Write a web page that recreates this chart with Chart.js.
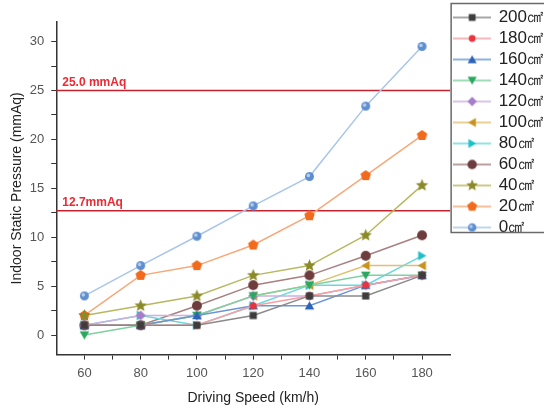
<!DOCTYPE html>
<html>
<head>
<meta charset="utf-8">
<script src="https://cdn.jsdelivr.net/npm/chart.js@4"></script>
<style>
html, body { margin: 0; padding: 0; background: #fff; overflow: hidden; }
</style>
</head>
<body>
<canvas id="chart" width="544" height="411"></canvas>
<script>
// x values (km/h)
const speeds = [60, 80, 100, 120, 140, 160, 180];

// indoor static pressure (mmAq) for each opening area
const s200 = [1.0, 1.0, 1.0, 2.0, 4.0, 4.0, 6.1];
const s180 = [1.0, 1.0, 1.0, 3.0, 4.0, 5.1, 6.1];
const s160 = [1.0, 1.0, 2.0, 3.0, 3.0, 5.1, 6.1];
const s140 = [0.0, 1.0, 2.0, 4.0, 5.1, 6.1, 6.1];
const s120 = [1.0, 2.0, 2.0, 4.0, 4.0, 5.1, 6.1];
const s100 = [1.0, 1.0, 2.0, 4.0, 5.1, 7.1, 7.1];
const s80  = [1.0, 2.0, 1.0, 3.0, 5.1, 5.1, 8.1];
const s60  = [1.0, 1.0, 3.0, 5.1, 6.1, 8.1, 10.2];
const s40  = [2.0, 3.0, 4.0, 6.1, 7.1, 10.2, 15.3];
const s20  = [2.0, 6.1, 7.1, 9.2, 12.2, 16.3, 20.4];
const s0   = [4.0, 7.1, 10.1, 13.2, 16.2, 23.4, 29.5];

const seriesNames = ['200㎠', '180㎠', '160㎠', '140㎠', '120㎠', '100㎠', '80㎠', '60㎠', '40㎠', '20㎠', '0㎠'];
const seriesValues = [s200, s180, s160, s140, s120, s100, s80, s60, s40, s20, s0];

// reference limits
const limitValues = [25.0, 12.7];
const limitLabels = ['25.0 mmAq', '12.7mmAq'];

// x and y tick positions
const xTicks = [60, 70, 80, 90, 100, 110, 120, 130, 140, 150, 160, 170, 180];
const yTicks = [0, 2.5, 5, 7.5, 10, 12.5, 15, 17.5, 20, 22.5, 25, 27.5, 30];

// look of each series: marker shape, marker colour, line colour, marker size
const looks = [
    {shape: 'square',   fill: '#3d3d3d', line: '#8a8a8a', r: 3.6},
    {shape: 'circle',   fill: '#e8343c', line: '#f4a0a4', r: 3.6},
    {shape: 'up',       fill: '#2c62b8', line: '#6a96d8', r: 5.5},
    {shape: 'down',     fill: '#2aa860', line: '#80d0a0', r: 5.5},
    {shape: 'diamond',  fill: '#a77cc8', line: '#cbb0e0', r: 5},
    {shape: 'left',     fill: '#c8921e', line: '#e0c070', r: 5.5},
    {shape: 'right',    fill: '#1ec0c8', line: '#6ad8dc', r: 5.5},
    {shape: 'circle',   fill: '#6e3c3c', line: '#a88080', r: 5},
    {shape: 'star',     fill: '#8a8a2a', line: '#b8b860', r: 6.5},
    {shape: 'pentagon', fill: '#f26a1c', line: '#f8a878', r: 5.5},
    {shape: 'ball',     fill: '#5d8fd0', line: '#a8c6ea', r: 4.5}
];

function polygon(ctx, x, y, r, n, startAngle) {
    for (let i = 0; i < n; i++) {
        let a = startAngle + i * 2 * Math.PI / n;
        let px = x + r * Math.cos(a), py = y + r * Math.sin(a);
        if (i === 0) ctx.moveTo(px, py); else ctx.lineTo(px, py);
    }
    ctx.closePath();
}

function drawMarker(ctx, shape, x, y, r, color) {
    ctx.save();
    ctx.fillStyle = color;
    ctx.beginPath();
    if (shape === 'square') {
        ctx.rect(x - r, y - r, 2 * r, 2 * r);
    } else if (shape === 'circle' || shape === 'ball') {
        ctx.arc(x, y, r, 0, 2 * Math.PI);
    } else if (shape === 'up') {
        polygon(ctx, x, y + r * 0.2, r, 3, -Math.PI / 2);
    } else if (shape === 'down') {
        polygon(ctx, x, y - r * 0.2, r, 3, Math.PI / 2);
    } else if (shape === 'left') {
        polygon(ctx, x + r * 0.2, y, r, 3, Math.PI);
    } else if (shape === 'right') {
        polygon(ctx, x - r * 0.2, y, r, 3, 0);
    } else if (shape === 'diamond') {
        polygon(ctx, x, y, r, 4, -Math.PI / 2);
    } else if (shape === 'pentagon') {
        polygon(ctx, x, y, r, 5, -Math.PI / 2);
    } else if (shape === 'star') {
        for (let i = 0; i < 10; i++) {
            let a = -Math.PI / 2 + i * Math.PI / 5;
            let rr = i % 2 === 0 ? r : r * 0.45;
            let px = x + rr * Math.cos(a), py = y + rr * Math.sin(a);
            if (i === 0) ctx.moveTo(px, py); else ctx.lineTo(px, py);
        }
        ctx.closePath();
    }
    ctx.fill();
    if (shape === 'ball') {
        // little highlight like the original sphere marker
        ctx.beginPath();
        ctx.fillStyle = 'rgba(255,255,255,0.55)';
        ctx.arc(x - r * 0.25, y - r * 0.25, r * 0.4, 0, 2 * Math.PI);
        ctx.fill();
    }
    ctx.restore();
}

function pointImage(look) {
    let size = Math.ceil(look.r * 2 + 2);
    let c = document.createElement('canvas');
    c.width = size; c.height = size;
    drawMarker(c.getContext('2d'), look.shape, size / 2, size / 2, look.r, look.fill);
    return c;
}

function legendImage(look) {
    let c = document.createElement('canvas');
    c.width = 38; c.height = 14;
    let ctx = c.getContext('2d');
    ctx.strokeStyle = look.line;
    ctx.lineWidth = 1.6;
    ctx.beginPath();
    ctx.moveTo(0, 7); ctx.lineTo(38, 7);
    ctx.stroke();
    drawMarker(ctx, look.shape, 19, 7, look.r * 0.95, look.fill);
    return c;
}

const legendIcons = looks.map(legendImage);

const datasets = seriesValues.map((vals, i) => ({
    label: seriesNames[i],
    data: speeds.map((s, j) => ({x: s, y: vals[j]})),
    borderColor: looks[i].line,
    backgroundColor: looks[i].fill,
    borderWidth: 1.5,
    pointStyle: pointImage(looks[i]),
    pointRadius: looks[i].r,
    tension: 0
}));

// horizontal limit lines with their red labels
const limitPlugin = {
    id: 'limits',
    beforeDatasetsDraw(chart) {
        let ctx = chart.ctx, area = chart.chartArea, yScale = chart.scales.y;
        ctx.save();
        for (let i = 0; i < limitValues.length; i++) {
            let y = yScale.getPixelForValue(limitValues[i]);
            ctx.strokeStyle = '#c3222c';
            ctx.lineWidth = 1.5;
            ctx.beginPath();
            ctx.moveTo(area.left, y);
            ctx.lineTo(area.right, y);
            ctx.stroke();
            ctx.fillStyle = '#ec2a33';
            ctx.font = 'bold 12px "Liberation Sans", Arial, sans-serif';
            ctx.textBaseline = 'bottom';
            ctx.fillText(limitLabels[i], area.left + 6, y - 2);
        }
        ctx.restore();
    }
};

// frame around the legend, and lift the legend to the top
const legendBoxPlugin = {
    id: 'legendBox',
    afterLayout(chart) {
        chart.legend.top = 5;
    },
    afterDraw(chart) {
        let lg = chart.legend, ctx = chart.ctx;
        ctx.save();
        ctx.strokeStyle = '#6a6a6a';
        ctx.lineWidth = 1.5;
        ctx.strokeRect(lg.left + 1, 3.5, 120, 229);
        ctx.restore();
    }
};

new Chart(document.getElementById('chart'), {
    type: 'line',
    data: {datasets: datasets},
    options: {
        responsive: false,
        animation: false,
        layout: {padding: {top: 22, left: 9, right: -10, bottom: 4}},
        scales: {
            x: {
                type: 'linear',
                min: 50,
                max: 190,
                afterBuildTicks: scale => { scale.ticks = xTicks.map(v => ({value: v})); },
                ticks: {
                    autoSkip: false,
                    maxRotation: 0,
                    padding: 6,
                    color: '#555',
                    font: {family: '"Liberation Sans", Arial, sans-serif', size: 13},
                    callback: v => (v % 20 === 0 ? v : '')
                },
                grid: {drawOnChartArea: false, color: '#333', tickLength: 5},
                border: {color: '#333', width: 1.5},
                title: {
                    display: true,
                    text: 'Driving Speed (km/h)',
                    color: '#222',
                    font: {family: '"Liberation Sans", Arial, sans-serif', size: 14},
                    padding: {top: 3, bottom: 0}
                }
            },
            y: {
                min: -2,
                max: 32,
                afterBuildTicks: scale => { scale.ticks = yTicks.map(v => ({value: v})); },
                ticks: {
                    autoSkip: false,
                    padding: 7,
                    color: '#555',
                    font: {family: '"Liberation Sans", Arial, sans-serif', size: 13},
                    callback: v => (v % 5 === 0 ? v : '')
                },
                grid: {drawOnChartArea: false, color: '#333', tickLength: 5},
                border: {color: '#333', width: 1.5},
                title: {
                    display: true,
                    text: 'Indoor Static Pressure (mmAq)',
                    color: '#222',
                    font: {family: '"Liberation Sans", Arial, sans-serif', size: 14},
                    padding: {top: 0, bottom: -3}
                }
            }
        },
        plugins: {
            legend: {
                position: 'right',
                align: 'start',
                labels: {
                    usePointStyle: true,
                    pointStyleWidth: 36,
                    boxHeight: 14,
                    padding: 4,
                    color: '#222',
                    font: {family: '"Liberation Sans", Arial, sans-serif', size: 17, lineHeight: 1.18},
                    generateLabels: chart => chart.data.datasets.map((ds, i) => ({
                        text: ds.label,
                        pointStyle: legendIcons[i],
                        datasetIndex: i,
                        hidden: false,
                        lineWidth: 0,
                        fontColor: '#222'
                    }))
                }
            },
            tooltip: {enabled: false}
        }
    },
    plugins: [limitPlugin, legendBoxPlugin]
});
</script>
</body>
</html>
